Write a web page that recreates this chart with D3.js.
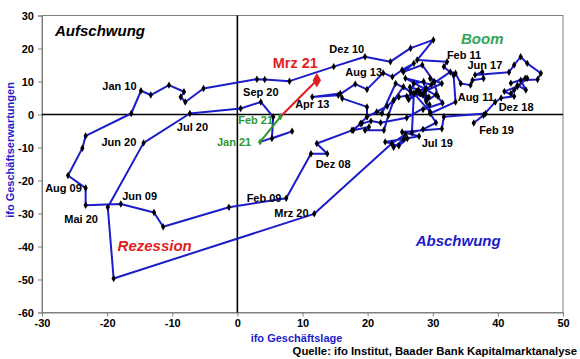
<!DOCTYPE html>
<html>
<head>
<meta charset="utf-8">
<script src="https://cdn.jsdelivr.net/npm/d3@7"></script>
<style>
  body { margin: 0; background: #fff; }
  svg { font-family: Arial, "Liberation Sans", sans-serif; }
  .tick text { font-size: 11px; font-weight: bold; fill: #000; }
</style>
</head>
<body>
<svg id="lienzo" width="580" height="359"></svg>
<script>
// ifo Geschäftslage (x) und Geschäftserwartungen (y), monatlich Jan 08 - Mrz 21
const lage = [
  29.0, 30.5, 31.5, 28.5, 29.5, 26.0, 22.0, 20.5, 19.1, 17.6, 12.2, 13.8,
  11.3, 7.5, -1.3, -11.4, -12.8, -17.9, -23.3, -23.3, -26.0, -23.8, -23.3, -16.3,
  -14.8, -13.3, -10.5, -8.2, -8.7, -8.0, -5.2, 3.0, 4.2, 8.0, 14.8, 19.6,
  23.5, 26.6, 30.1, 27.6, 32.2, 31.7, 33.2, 33.5, 29.6, 30.5, 28.5, 26.8,
  27.1, 29.1, 28.1, 24.8, 24.0, 23.2, 22.5, 19.6, 20.2, 17.8, 18.9, 19.9,
  19.9, 16.1, 15.8, 11.5, 15.5, 18.1, 19.9, 22.4, 23.8, 25.3, 27.1, 25.5,
  28.4, 30.2, 29.6, 31.4, 28.1, 26.6, 24.3, 22.2, 21.4, 19.9, 23.0, 24.0,
  25.5, 26.6, 27.1, 28.6, 29.1, 29.4, 27.5, 29.0, 28.5, 29.6, 27.1, 26.0,
  28.0, 26.3, 27.8, 26.5, 28.8, 30.2, 30.8, 25.8, 29.8, 32.7, 33.5, 34.3,
  35.8, 36.1, 37.8, 37.6, 36.5, 41.7, 42.5, 43.5, 44.5, 46.6, 46.1, 43.5,
  44.3, 43.0, 42.5, 44.5, 42.0, 44.2, 42.0, 43.0, 41.0, 42.5, 40.5, 39.6,
  37.8, 36.3, 38.1, 31.7, 31.4, 25.3, 27.9, 22.7, 24.8, 26.1, 24.0, 25.5,
  25.8, 23.7, 11.8, -19.0, -19.9, -14.4, -7.3, 0.5, 3.6, 5.5, 5.3, 8.4,
  3.5, 6.6, 12.2
];
const erwartungen = [
  4.0, 6.0, 3.5, 1.5, 3.0, -1.0, -2.5, -2.0, -2.7, -4.8, -8.8, -11.9,
  -11.9, -25.4, -28.1, -34.0, -29.7, -27.1, -27.5, -22.3, -18.5, -10.2, -6.5, 0.3,
  7.2, 5.9, 8.9, 6.9, 5.3, 3.8, 7.9, 10.7, 10.6, 10.1, 14.5, 17.5,
  16.0, 20.1, 22.6, 16.5, 16.0, 14.5, 11.9, 3.8, 0.3, -2.5, -4.5, -5.5,
  6.4, 4.9, 6.4, 5.3, 4.3, -0.2, -4.8, -4.8, -3.8, -4.8, -2.7, -0.7,
  2.3, 4.9, 6.4, 5.3, 5.8, 9.2, 7.6, 12.6, 11.4, 13.5, 15.5, 12.9,
  15.0, 9.9, 10.9, 9.4, 6.4, 6.9, 9.4, 0.3, 0.8, -0.7, 2.5, 4.3,
  8.4, 6.9, 9.4, 10.0, 4.9, 5.3, 7.0, 8.0, 6.0, 0.8, 6.4, 5.5,
  6.5, 4.5, 7.5, 8.3, 7.0, 9.9, 5.5, 11.0, 9.0, 12.9, 12.5, 9.4,
  8.9, 10.4, 10.9, 12.9, 12.0, 12.8, 15.0, 17.5, 15.5, 12.5, 10.6, 10.4,
  7.4, 8.9, 7.4, 11.0, 9.5, 11.0, 6.4, 8.5, 7.0, 5.5, 5.0, 3.8,
  -0.2, -2.6, 0.3, -0.7, -4.3, -5.3, -6.6, -8.3, -9.5, -7.3, -9.9, -7.6,
  -6.0, -8.8, -30.1, -49.7, -28.1, -8.6, 0.3, 1.8, 3.8, -0.7, -7.3, -5.1,
  -8.3, -0.7, 10.4
];

const xTicks = d3.range(-30, 51, 10);
const yTicks = d3.range(-60, 31, 10);

// Beschriftungen der Monate: Text, Lage, Erwartungen (Textmitte)
const monatsLabels = [
  ["Jan 10", -18.1, 8.6], ["Jul 20", -6.9, -3.9], ["Sep 20", 3.6, 6.8],
  ["Jun 20", -18.2, -8.3], ["Aug 09", -26.7, -22.4], ["Jun 09", -15.0, -24.7],
  ["Mai 20", -24.0, -31.8], ["Feb 09", 4.1, -25.3], ["Mrz 20", 8.3, -29.7],
  ["Dez 08", 14.7, -15.1], ["Apr 13", 11.5, 3.3], ["Aug 13", 19.4, 12.9],
  ["Dez 10", 16.8, 19.8], ["Feb 11", 34.8, 18.1], ["Jun 17", 38.0, 15.0],
  ["Aug 11", 36.6, 5.2], ["Dez 18", 42.8, 2.2], ["Feb 19", 39.8, -4.8],
  ["Jul 19", 30.7, -8.6]
];

const svg = d3.select('#lienzo');
const margin = { top: 15.5, right: 17, bottom: 46.5, left: 42 };
const W = 580, H = 359;

const x = d3.scaleLinear().domain([-30, 50]).range([margin.left, W - margin.right]);
const y = d3.scaleLinear().domain([-60, 30]).range([H - margin.bottom, margin.top]);

const blau = '#1c1cc8', gruen = '#2e962e', rot = '#e01e1e';

// Rahmen
svg.append('rect')
    .attr('x', x(-30)).attr('y', y(30))
    .attr('width', x(50) - x(-30)).attr('height', y(-60) - y(30))
    .attr('fill', 'none').attr('stroke', '#808080').attr('stroke-width', 1);

// Achsen
const yAxis = svg.append('g')
    .attr('transform', `translate(${x(-30)},0)`)
    .call(d3.axisLeft(y).tickValues(yTicks).tickSize(4).tickPadding(4).tickFormat(d3.format('d')));
const xAxis = svg.append('g')
    .attr('transform', `translate(0,${y(-60)})`)
    .call(d3.axisBottom(x).tickValues(xTicks).tickSize(4).tickPadding(3).tickFormat(d3.format('d')));
[xAxis, yAxis].forEach(a => {
    a.select('.domain').attr('stroke', '#808080');
    a.selectAll('.tick line').attr('stroke', '#808080');
});
yAxis.selectAll('.tick text').text(d => d < 0 ? '-' + Math.abs(d) : d);
xAxis.selectAll('.tick text').text(d => d < 0 ? '-' + Math.abs(d) : d);

// Nulllinien
svg.append('line')
    .attr('x1', x(0)).attr('x2', x(0)).attr('y1', y(30)).attr('y2', y(-60))
    .attr('stroke', '#000').attr('stroke-width', 1.6);
svg.append('line')
    .attr('x1', x(-30)).attr('x2', x(50)).attr('y1', y(0)).attr('y2', y(0))
    .attr('stroke', '#000').attr('stroke-width', 1.6);

// Punkte
const punkte = lage.map((v, i) => [v, erwartungen[i]]);
const n = punkte.length;
const line = d3.line().x(d => x(d[0])).y(d => y(d[1]));

svg.append('path')
    .datum(punkte.slice(0, n - 2))
    .attr('d', line)
    .attr('fill', 'none').attr('stroke', blau).attr('stroke-width', 2)
    .attr('stroke-linejoin', 'round');
svg.append('path')
    .datum(punkte.slice(n - 3, n - 1))
    .attr('d', line)
    .attr('fill', 'none').attr('stroke', gruen).attr('stroke-width', 2);
svg.append('path')
    .datum(punkte.slice(n - 2))
    .attr('d', line)
    .attr('fill', 'none').attr('stroke', rot).attr('stroke-width', 2);

const raute = d3.symbol().type(d3.symbolDiamond);
svg.selectAll('path.marker')
    .data(punkte)
    .enter()
    .append('path')
    .attr('class', 'marker')
    .attr('transform', d => `translate(${x(d[0])},${y(d[1])})`)
    .attr('d', (d, i) => raute.size(i === n - 1 ? 60 : 16)())
    .attr('fill', (d, i) => i === n - 1 ? rot : (i >= n - 3 ? gruen : '#000'));

// Monatsbeschriftungen
svg.selectAll('text.monat')
    .data(monatsLabels)
    .enter()
    .append('text')
    .attr('class', 'monat')
    .attr('x', d => x(d[1]))
    .attr('y', d => y(d[2]))
    .attr('text-anchor', 'middle')
    .attr('dominant-baseline', 'central')
    .attr('font-size', '11px')
    .attr('font-weight', 'bold')
    .attr('fill', '#000')
    .text(d => d[0]);

const sonder = [
  ["Feb 21", 2.8, -1.7, gruen, 11], ["Jan 21", -0.5, -8.4, gruen, 11],
  ["Mrz 21", 8.9, 15.6, rot, 14.5]
];
sonder.forEach(s => {
    svg.append('text')
        .attr('x', x(s[1])).attr('y', y(s[2]))
        .attr('text-anchor', 'middle').attr('dominant-baseline', 'central')
        .attr('font-size', s[4] + 'px').attr('font-weight', 'bold')
        .attr('fill', s[3]).text(s[0]);
});

// Quadranten
const quadranten = [
  ["Aufschwung", -28.0, 25.6, '#000', 'start'],
  ["Boom", 37.6, 23.0, '#33a65a', 'middle'],
  ["Rezession", -12.7, -39.7, rot, 'middle'],
  ["Abschwung", 33.9, -38.2, blau, 'middle']
];
quadranten.forEach(q => {
    svg.append('text')
        .attr('x', x(q[1])).attr('y', y(q[2]))
        .attr('text-anchor', q[4]).attr('dominant-baseline', 'central')
        .attr('font-size', '15px').attr('font-weight', 'bold').attr('font-style', 'italic')
        .attr('fill', q[3]).text(q[0]);
});

// Achsentitel
svg.append('text')
    .attr('transform', 'translate(10,150) rotate(-90)')
    .attr('text-anchor', 'middle').attr('dominant-baseline', 'central')
    .attr('font-size', '11px').attr('font-weight', 'bold').attr('fill', blau)
    .text('ifo Geschäftserwartungen');
svg.append('text')
    .attr('x', 296.5).attr('y', 338)
    .attr('text-anchor', 'middle').attr('dominant-baseline', 'central')
    .attr('font-size', '11px').attr('font-weight', 'bold').attr('fill', blau)
    .text('ifo Geschäftslage');

// Quelle
svg.append('text')
    .attr('x', 577).attr('y', 351)
    .attr('text-anchor', 'end').attr('dominant-baseline', 'central')
    .attr('font-size', '11.3px').attr('font-weight', 'bold').attr('fill', '#000')
    .text('Quelle: ifo Institut, Baader Bank Kapitalmarktanalyse');
</script>
</body>
</html>
